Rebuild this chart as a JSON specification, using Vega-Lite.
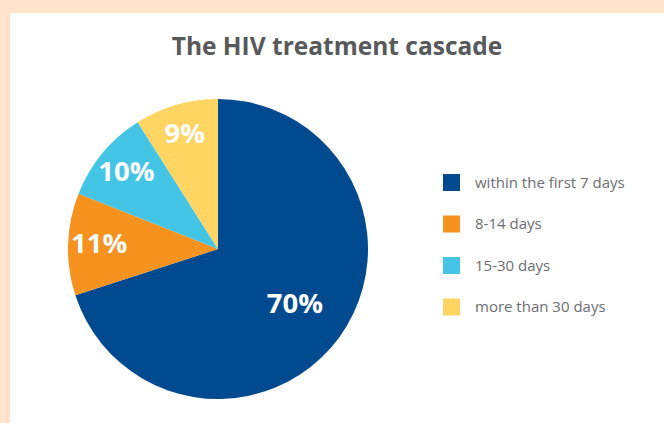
{
  "$schema": "https://vega.github.io/schema/vega-lite/v6.json",
  "width": 654,
  "height": 410,
  "autosize": {"type": "none"},
  "padding": {"left": 10, "top": 13, "right": 0, "bottom": 0},
  "background": "#FDE4CA",
  "view": {"fill": "white", "stroke": "white", "strokeWidth": 0},
  "config": {
    "font": "Open Sans"
  },
  "title": {
    "text": "The HIV treatment cascade",
    "anchor": "middle",
    "frame": "group",
    "orient": "top",
    "offset": -47,
    "fontSize": 24.5,
    "fontWeight": "bold",
    "font": "Open Sans",
    "color": "#58595B",
    "dx": 0
  },
  "data": {
    "values": [
      {"category": "within the first 7 days", "value": 70, "label": "70%"},
      {"category": "8-14 days", "value": 11, "label": "11%"},
      {"category": "15-30 days", "value": 10, "label": "10%"},
      {"category": "more than 30 days", "value": 9, "label": "9%"}
    ]
  },
  "encoding": {
    "theta": {"field": "value", "type": "quantitative", "stack": true},
    "order": {"field": "value", "type": "quantitative", "sort": "descending"}
  },
  "layer": [
    {
      "mark": {"type": "arc", "outerRadius": 150, "x": 208, "y": 236, "stroke": null},
      "encoding": {
        "color": {
          "field": "category",
          "type": "nominal",
          "scale": {
            "domain": ["within the first 7 days", "8-14 days", "15-30 days", "more than 30 days"],
            "range": ["#024A90", "#F6921E", "#45C5E5", "#FED563"]
          },
          "legend": {
            "title": null,
            "orient": "none",
            "legendX": 433,
            "legendY": 161,
            "padding": 0,
            "symbolType": "square",
            "symbolSize": 289,
            "symbolStrokeWidth": 0,
            "symbolOpacity": 1,
            "rowPadding": 24.5,
            "labelOffset": 15,
            "labelFontSize": 15,
            "labelFont": "Open Sans",
            "labelColor": "#6D6E71",
            "labelLimit": 300
          }
        }
      }
    },
    {
      "mark": {
        "type": "text",
        "x": 208,
        "y": 236,
        "radius": {"expr": "datum.value > 50 ? 95 : 119"},
        "fontSize": 27.5,
        "fontWeight": "bold",
        "font": "Open Sans",
        "color": "white",
        "align": "center",
        "baseline": "middle"
      },
      "encoding": {
        "text": {"field": "label"}
      }
    }
  ]
}
